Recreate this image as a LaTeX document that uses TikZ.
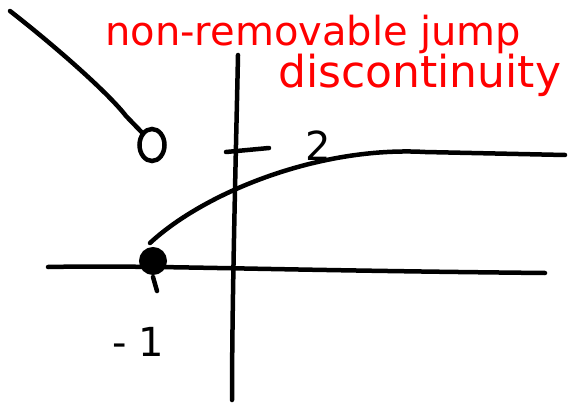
\documentclass[tikz,border=0pt]{standalone}
\usepackage{fontspec}
\usetikzlibrary{shapes.geometric}
\newfontfamily\handfont{DejaVu Sans}
\begin{document}
\begin{tikzpicture}[x=1pt,y=-1pt,
  ink/.style={line width=4.5pt,line cap=round,line join=round,black},
  redtext/.style={text=red,font=\handfont\fontsize{40}{40}\selectfont,inner sep=0pt,anchor=base west},
  blacktext/.style={font=\handfont\fontsize{40}{40}\selectfont,inner sep=0pt}]
\useasboundingbox (0,0) rectangle (569,403);
% axes
\coordinate (xl) at (48,267);
\coordinate (xr) at (545,273);
\coordinate (yt) at (238,55);
\coordinate (yb) at (232,400);
\draw[ink] (xl) .. controls (150,265) and (250,270) .. (xr);
\draw[ink] (yt) .. controls (236,150) and (232,300) .. (yb);
% tick at 2
\coordinate (tl) at (226,152);
\coordinate (tr) at (269,148);
\draw[ink] (tl) -- (tr);
\node[blacktext] (two) at (318,146) {2};
% curve
\coordinate (cs) at (150,243);
\coordinate (ce) at (565,155);
\draw[ink] (cs) .. controls (205,192) and (320,146) .. (425,152) -- (ce);
% filled dot
\node[circle,fill=black,draw=black,line width=2pt,minimum size=26pt,inner sep=0pt] (dot) at (153,261) {};
\draw[ink] (dot.south) ++(0,2) -- ++(4,14);
% open circle and line
\node[ellipse,draw=black,line width=4.5pt,minimum width=25pt,minimum height=32pt,inner sep=0pt] (open) at (152,145) {};
\coordinate (ds) at (10,11);
\draw[ink] (ds) .. controls (60,50) and (110,95) .. (126,116) -- (open.north west);
% -1 label
\node[blacktext] (minusone) at (138,342) {-\hspace{12pt}1};
% red text
\node[redtext] (t1) at (105,46) {non-removable jump};
\node[redtext,font=\handfont\fontsize{44}{44}\selectfont] (t2) at (278,88) {discontinuity};
\end{tikzpicture}
\end{document}
